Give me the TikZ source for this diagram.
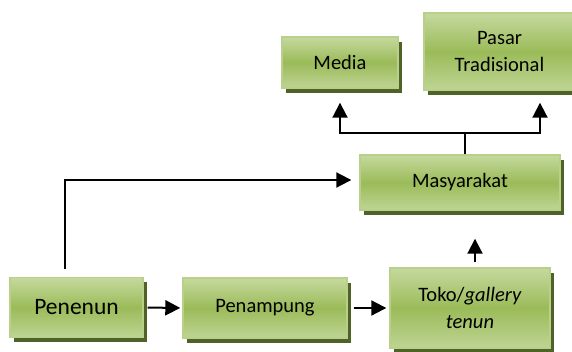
\documentclass[tikz,border=0pt]{standalone}
\usepackage{fontspec}
\setmainfont{Carlito}
\usetikzlibrary{arrows.meta,shadows}
\definecolor{gtop}{HTML}{C5D99E}
\definecolor{gmid}{HTML}{9BBB59}
\definecolor{gedge}{HTML}{B9D08A}
\definecolor{gshadow}{HTML}{4F6228}
\tikzset{
  box/.style={draw=gedge, line width=1.4pt, top color=gtop, bottom color=gtop!85!gmid, middle color=gmid,
    general shadow={shadow xshift=3.5pt, shadow yshift=-4.5pt, fill=gshadow},
    align=center, font=\fontsize{20.5}{27}\selectfont, inner sep=0pt},
  arr/.style={line width=2pt, -{Triangle[length=15pt,width=15pt]}},
  ln/.style={line width=2pt}
}
\begin{document}
\begin{tikzpicture}[x=1pt,y=-1pt]
\useasboundingbox (0,0) rectangle (572,351);
\clip (0,0) rectangle (572,351);
\node[box, minimum width=133pt, minimum height=60pt, font=\fontsize{23.5}{28}\selectfont] (pen) at (76.5,307.5) {Penenun};
\node[box, minimum width=164pt, minimum height=60pt] (pam) at (265,308) {Penampung};
\node[box, minimum width=160pt, minimum height=80pt] (toko) at (470,308) {Toko/\textit{gallery}\\\textit{tenun}};
\node[box, minimum width=200pt, minimum height=55pt] (masy) at (460,182.5) {Masyarakat};
\node[box, minimum width=116pt, minimum height=51pt] (media) at (340,62.5) {Media};
\node[box, minimum width=151pt, minimum height=77pt] (pasar) at (499.5,51.5) {Pasar\\Tradisional};
\coordinate (jn) at (465,133);
\draw[arr, shorten <=4pt, shorten >=2pt] (pen.east) -- (pam.west);
\draw[arr, shorten <=6pt, shorten >=3pt] (pam.east) -- (toko.west);
\draw[arr, shorten <=5pt, shorten >=28pt] ([xshift=5pt]toko.north) -- ([xshift=15pt]masy.south);
\draw[arr, shorten <=8pt, shorten >=8pt] ([xshift=-11.5pt]pen.north) |- ([yshift=2.5pt]masy.west);
\draw[ln] ([xshift=5pt]masy.north) -- (jn);
\draw[arr, shorten >=14pt] (jn) -| (media.south);
\draw[arr, shorten >=12pt] (jn) -| ([xshift=40.5pt]pasar.south);
\end{tikzpicture}
\end{document}
